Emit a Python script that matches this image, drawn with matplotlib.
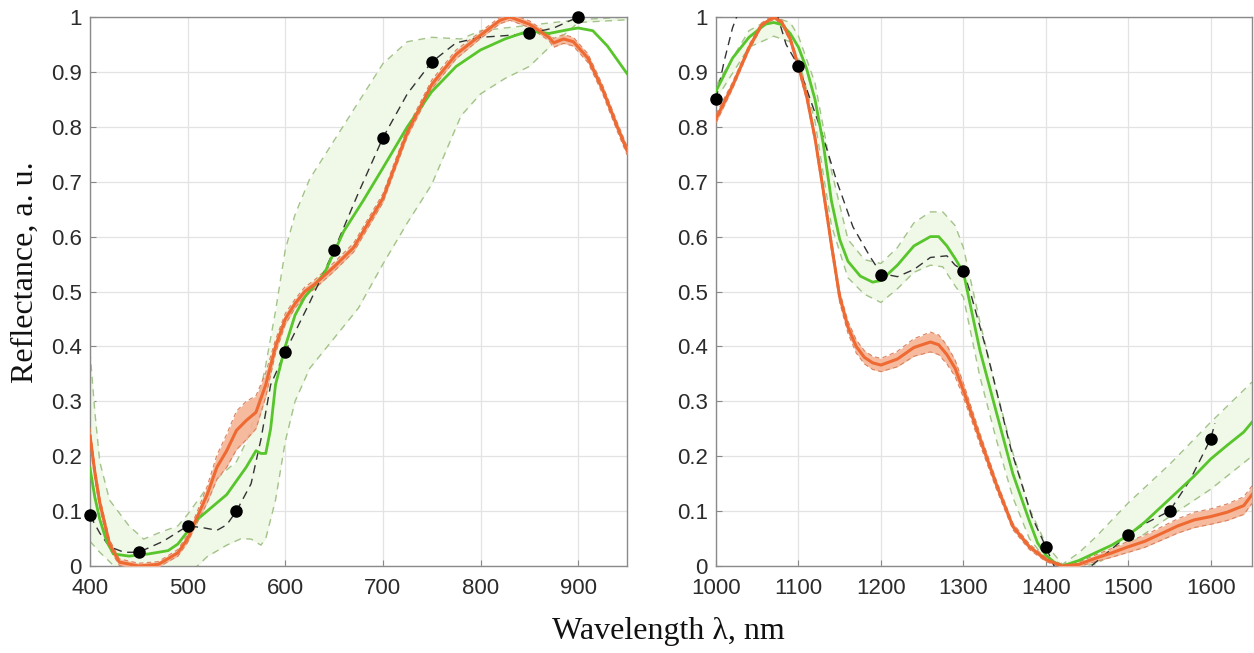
import numpy as np
import matplotlib
matplotlib.use("Agg")
import matplotlib.pyplot as plt

# ---------------- data: left panel (VIS) ----------------
wl_g_L = [400, 405, 410, 417, 424, 440, 460, 480, 490, 500, 510, 520, 540, 560, 570, 575, 580, 585, 590, 600, 610,
          620, 640, 660, 680, 700, 725, 750, 775, 800, 825, 850, 870, 890, 900, 915, 930, 950]
g_L = [0.178, 0.125, 0.085, 0.045, 0.022, 0.018, 0.022, 0.028, 0.04, 0.063, 0.085, 0.10, 0.13, 0.18, 0.21, 0.205,
       0.205, 0.25, 0.33, 0.40, 0.457, 0.49, 0.533, 0.61, 0.666, 0.725, 0.80, 0.864, 0.91, 0.94, 0.96, 0.975, 0.97,
       0.977, 0.98, 0.975, 0.947, 0.897]

wl_gu_L = [400, 405, 410, 420, 440, 455, 470, 490, 500, 520, 540, 550, 560, 570, 580, 590, 600, 610, 625, 650,
           675, 700, 725, 750, 780, 800, 850, 900, 950]
gu_L = [0.39, 0.28, 0.19, 0.12, 0.073, 0.049, 0.06, 0.073, 0.094, 0.143, 0.175, 0.19, 0.226, 0.28, 0.366, 0.464,
        0.576, 0.64, 0.705, 0.775, 0.845, 0.915, 0.955, 0.963, 0.96, 0.975, 0.985, 0.995, 1.0]

wl_gl_L = [400, 410, 420, 430, 445, 470, 500, 510, 520, 540, 555, 565, 575, 580, 590, 600, 610, 625, 650, 675,
           700, 725, 750, 780, 800, 825, 850, 875, 890, 900, 950]
gl_L = [0.045, 0.025, 0.008, -0.01, -0.03, -0.04, -0.01, 0.0, 0.017, 0.038, 0.05, 0.049, 0.038, 0.05, 0.12, 0.227,
        0.30, 0.36, 0.415, 0.47, 0.55, 0.625, 0.695, 0.82, 0.86, 0.888, 0.91, 0.953, 0.974, 0.99, 0.995]

wl_o_L = [400, 405, 410, 420, 430, 450, 470, 490, 500, 510, 520, 530, 540, 550, 560, 570, 580, 590, 600, 610, 620,
          630, 650, 670, 690, 700, 725, 750, 775, 800, 820, 830, 850, 860, 870, 875, 885, 895, 910, 925, 940, 950]
o_L = [0.237, 0.17, 0.115, 0.04, 0.007, 0.0, 0.003, 0.024, 0.05, 0.09, 0.13, 0.18, 0.21, 0.247, 0.265, 0.28, 0.33,
       0.40, 0.45, 0.478, 0.50, 0.513, 0.545, 0.58, 0.64, 0.67, 0.79, 0.877, 0.932, 0.967, 0.994, 1.0, 0.987, 0.975,
       0.963, 0.953, 0.96, 0.955, 0.925, 0.868, 0.80, 0.757]
os_L = [0.015, 0.012, 0.01, 0.008, 0.006, 0.005, 0.005, 0.006, 0.007, 0.01, 0.015, 0.022, 0.03, 0.035, 0.035, 0.03,
        0.022, 0.012, 0.01, 0.008, 0.008, 0.008, 0.008, 0.008, 0.008, 0.008, 0.008, 0.008, 0.008, 0.006, 0.006,
        0.006, 0.006, 0.006, 0.006, 0.008, 0.008, 0.008, 0.008, 0.008, 0.008, 0.008]

wl_k_L = [400, 410, 420, 435, 450, 475, 500, 515, 530, 540, 550, 565, 575, 585, 600, 625, 650, 675, 700, 725, 750,
          775, 800, 825, 850, 875, 900]
k_L = [0.092, 0.06, 0.035, 0.025, 0.025, 0.045, 0.073, 0.07, 0.065, 0.075, 0.1, 0.15, 0.23, 0.33, 0.39, 0.48, 0.575,
       0.68, 0.78, 0.86, 0.918, 0.953, 0.963, 0.966, 0.97, 0.98, 1.0]
dots_x_L = [400, 450, 500, 550, 600, 650, 700, 750, 850, 900]
dots_y_L = [0.092, 0.025, 0.073, 0.1, 0.39, 0.575, 0.78, 0.918, 0.97, 1.0]

# ---------------- data: right panel (NIR) ----------------
wl_g_R = [1000, 1020, 1040, 1060, 1070, 1080, 1090, 1100, 1110, 1120, 1130, 1140, 1150, 1160, 1175, 1190, 1200, 1220,
          1240, 1260, 1270, 1280, 1290, 1300, 1320, 1340, 1360, 1380, 1390, 1400, 1410, 1420, 1440, 1460, 1480, 1500,
          1520, 1540, 1560, 1580, 1600, 1620, 1640, 1650]
g_R = [0.865, 0.925, 0.963, 0.987, 0.99, 0.986, 0.97, 0.945, 0.905, 0.85, 0.77, 0.665, 0.595, 0.555, 0.528, 0.517,
       0.52, 0.548, 0.583, 0.60, 0.60, 0.583, 0.56, 0.535, 0.393, 0.28, 0.168, 0.082, 0.042, 0.02, 0.007, 0.0, 0.01,
       0.024, 0.038, 0.056, 0.08, 0.108, 0.136, 0.164, 0.195, 0.22, 0.244, 0.262]

wl_gb_R = [1000, 1040, 1070, 1090, 1100, 1120, 1140, 1160, 1180, 1200, 1220, 1240, 1260, 1275, 1290, 1300, 1320, 1340,
           1360, 1380, 1400, 1420, 1440, 1460, 1500, 1550, 1600, 1650]
gu_R = [0.875, 0.975, 1.0, 0.99, 0.965, 0.88, 0.72, 0.595, 0.558, 0.551, 0.58, 0.625, 0.645, 0.645, 0.62, 0.58, 0.445,
        0.32, 0.206, 0.105, 0.04, 0.003, 0.024, 0.052, 0.115, 0.185, 0.262, 0.335]
gl_R = [0.85, 0.945, 0.965, 0.955, 0.925, 0.81, 0.62, 0.525, 0.495, 0.48, 0.505, 0.535, 0.548, 0.545, 0.51, 0.49, 0.345,
        0.23, 0.125, 0.05, 0.012, 0.0, 0.0, 0.003, 0.038, 0.09, 0.14, 0.2]

wl_o_R = [1000, 1020, 1040, 1055, 1070, 1080, 1090, 1100, 1110, 1120, 1130, 1140, 1150, 1160, 1170, 1180, 1190, 1200,
          1220, 1240, 1260, 1270, 1280, 1290, 1300, 1310, 1320, 1340, 1360, 1380, 1400, 1420, 1440, 1460, 1480, 1500,
          1520, 1540, 1560, 1580, 1600, 1620, 1640, 1650]
o_R = [0.815, 0.875, 0.944, 0.985, 1.0, 0.99, 0.96, 0.91, 0.855, 0.78, 0.685, 0.585, 0.49, 0.435, 0.40, 0.38, 0.37,
       0.366, 0.377, 0.398, 0.408, 0.403, 0.385, 0.36, 0.32, 0.276, 0.232, 0.148, 0.072, 0.035, 0.012, 0.0, 0.003,
       0.014, 0.024, 0.035, 0.045, 0.059, 0.073, 0.084, 0.09, 0.098, 0.11, 0.13]
os_R = [0.008, 0.006, 0.005, 0.004, 0.004, 0.004, 0.005, 0.006, 0.007, 0.008, 0.009, 0.01, 0.01, 0.011, 0.012, 0.012,
        0.012, 0.012, 0.014, 0.016, 0.018, 0.018, 0.017, 0.015, 0.013, 0.011, 0.01, 0.008, 0.006, 0.005, 0.004,
        0.003, 0.004, 0.006, 0.008, 0.01, 0.011, 0.012, 0.013, 0.014, 0.014, 0.015, 0.016, 0.016]

wl_k_R = [1000, 1010, 1020, 1030, 1035, 1070, 1075, 1085, 1100, 1126, 1146, 1166, 1187, 1200, 1220, 1240, 1260, 1280,
          1290, 1300, 1310, 1328, 1340, 1358, 1383, 1400, 1410, 1430, 1455, 1480, 1500, 1520, 1550, 1575, 1600, 1605]
k_R = [0.85, 0.92, 0.98, 1.02, 1.05, 1.05, 1.0, 0.95, 0.911, 0.80, 0.703, 0.618, 0.563, 0.533, 0.527, 0.54, 0.562,
       0.565, 0.548, 0.538, 0.49, 0.393, 0.32, 0.211, 0.09, 0.035, 0.0, -0.03, 0.0, 0.031, 0.057, 0.077, 0.10, 0.157,
       0.232, 0.26]
dots_x_R = [1000, 1100, 1200, 1300, 1400, 1500, 1550, 1600]
dots_y_R = [0.85, 0.91, 0.53, 0.538, 0.035, 0.057, 0.10, 0.232]

xticks_L = [400, 500, 600, 700, 800, 900]
xticks_R = [1000, 1100, 1200, 1300, 1400, 1500, 1600]
yticks = [0, 0.1, 0.2, 0.3, 0.4, 0.5, 0.6, 0.7, 0.8, 0.9, 1]
ytick_labels = ["0", "0.1", "0.2", "0.3", "0.4", "0.5", "0.6", "0.7", "0.8", "0.9", "1"]

# ---------------- style ----------------
GREEN = "#57c52b"
GREEN_FILL = "#f0f8e7"
GREEN_EDGE = "#a3c38a"
ORANGE = "#ee6a32"
ORANGE_FILL = "#f5b394"
ORANGE_EDGE = "#d9825f"
TICKC = "#2b2b2b"

fig = plt.figure(figsize=(12.54, 6.53), dpi=100)
axL = fig.add_axes([90 / 1254, 1 - 566 / 653, 537 / 1254, 549 / 653])
axR = fig.add_axes([716 / 1254, 1 - 566 / 653, 536 / 1254, 549 / 653])


def draw(ax, wg, g, wgu, gu, wgl, gl, wo, o, os_, wk, k, dx, dy, xlim, xticks):
    wg = np.array(wg); g = np.array(g)
    if list(wgu) == list(wgl):
        ax.fill_between(wgu, gl, gu, color=GREEN_FILL, lw=0, zorder=1)
    else:
        xs = np.array(sorted(set(wgu) | set(wgl)), dtype=float)
        ax.fill_between(xs, np.interp(xs, wgl, gl), np.interp(xs, wgu, gu), color=GREEN_FILL, lw=0, zorder=1)
    ax.plot(wgu, gu, ls=(0, (5, 4)), color=GREEN_EDGE, lw=1.0, zorder=2)
    ax.plot(wgl, gl, ls=(0, (5, 4)), color=GREEN_EDGE, lw=1.0, zorder=2)
    o = np.array(o); os_ = np.array(os_)
    ax.fill_between(wo, o - os_, o + os_, color=ORANGE_FILL, lw=0, zorder=3, alpha=0.9)
    ax.plot(wo, o + os_, ls=(0, (4, 3)), color=ORANGE_EDGE, lw=0.8, zorder=3)
    ax.plot(wo, o - os_, ls=(0, (4, 3)), color=ORANGE_EDGE, lw=0.8, zorder=3)
    ax.plot(wk, k, ls=(0, (6, 4)), color="#333333", lw=1.0, zorder=4)
    ax.plot(wg, g, color=GREEN, lw=2.0, zorder=5)
    ax.plot(wo, o, color=ORANGE, lw=2.2, zorder=6)
    ax.plot(dx, dy, "o", color="black", ms=8, zorder=7, clip_on=False)

    ax.set_xlim(*xlim)
    ax.set_ylim(0, 1)
    ax.set_xticks(xticks)
    ax.set_yticks(yticks)
    ax.set_yticklabels(ytick_labels)
    ax.grid(True, color="#e3e3e3", lw=0.9)
    ax.set_axisbelow(True)
    ax.tick_params(direction="in", length=4, width=0.8, color="#888888", labelsize=16, labelcolor=TICKC)
    ax.tick_params(axis="x", pad=9)
    ax.tick_params(axis="y", pad=6)
    for s in ax.spines.values():
        s.set_color("#8a8a8a")
        s.set_linewidth(1.0)
    for t in ax.get_xticklabels() + ax.get_yticklabels():
        t.set_fontfamily("Liberation Sans")


draw(axL, wl_g_L, g_L, wl_gu_L, gu_L, wl_gl_L, gl_L, wl_o_L, o_L, os_L, wl_k_L, k_L, dots_x_L, dots_y_L,
     (400, 950), xticks_L)
draw(axR, wl_g_R, g_R, wl_gb_R, gu_R, wl_gb_R, gl_R, wl_o_R, o_R, os_R, wl_k_R, k_R, dots_x_R, dots_y_R,
     (1000, 1650), xticks_R)

fig.text(668 / 1254, 1 - 632 / 653, "Wavelength λ, nm", ha="center", va="center",
         fontsize=23, family="Liberation Serif", color="#111111")
fig.text(25 / 1254, 1 - 272 / 653, "Reflectance, a. u.", ha="center", va="center", rotation=90,
         fontsize=23, family="Liberation Serif", color="#111111")

fig.savefig("out.png", dpi=100)
